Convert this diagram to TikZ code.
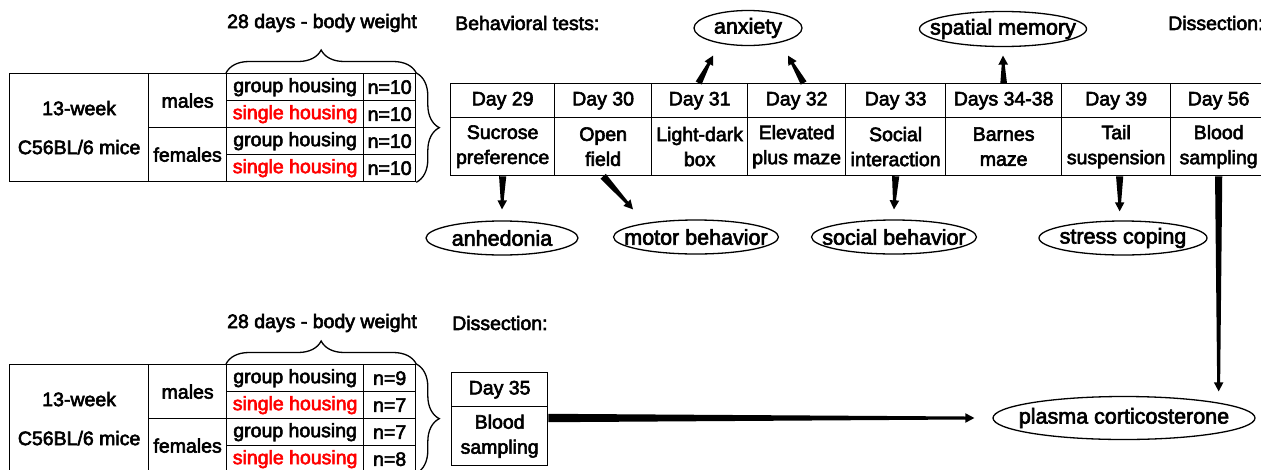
\documentclass[tikz,border=0pt]{standalone}
\usepackage{fontspec}
\setmainfont{Liberation Sans}[FakeBold=3]
\usetikzlibrary{calc,shapes.geometric,decorations.pathreplacing}

\tikzset{
  cell/.style={draw, line width=1.3pt, inner sep=0pt, align=center, anchor=north west,
    font=\fontsize{19.5}{25}\selectfont},
  lbl/.style={font=\fontsize{19.5}{24}\selectfont, inner sep=0pt},
  ovallbl/.style={font=\fontsize{21.5}{24}\selectfont, inner sep=0pt},
  oval/.style={draw, ellipse, line width=1.3pt, inner sep=0pt, minimum height=35pt,
    label={[ovallbl]center:#1}},
  redtxt/.style={text=red},
  brc/.style={decorate, decoration={brace, amplitude=23pt}, line width=1.3pt}
}

% tapered arrow: [half width at start]{start}{tip}
\newcommand\taparrow[3][3.6pt]{%
  \fill let \p1=(#2), \p2=(#3), \n1={atan2(\y2-\y1,\x2-\x1)} in
    ($(\p1)+(\n1+90:#1)$)
    -- ($(\p2)+(\n1+180:9pt)+(\n1+90:1.5pt)$)
    -- ($(\p2)+(\n1+180:9pt)+(\n1+90:4.8pt)$)
    -- (\p2)
    -- ($(\p2)+(\n1+180:9pt)+(\n1-90:4.8pt)$)
    -- ($(\p2)+(\n1+180:9pt)+(\n1-90:1.5pt)$)
    -- ($(\p1)+(\n1-90:#1)$) -- cycle;}

\begin{document}
\begin{tikzpicture}[x=1pt, y=-1pt]
\useasboundingbox (0,0) rectangle (1261,469);

% ---------- top group table ----------
\node[cell, minimum width=139pt, minimum height=108pt, font=\fontsize{19.5}{39}\selectfont] (tA) at (9,73) {13-week\\C56BL/6 mice};
\node[cell, minimum width=78pt, minimum height=54pt] (tM) at (148,73) {males};
\node[cell, minimum width=78pt, minimum height=54pt] (tF) at (148,127) {females};
\node[cell, minimum width=137pt, minimum height=27pt] (tG1) at (226,73) {group housing};
\node[cell, minimum width=137pt, minimum height=27pt, redtxt] (tS1) at (226,100) {single housing};
\node[cell, minimum width=137pt, minimum height=27pt] (tG2) at (226,127) {group housing};
\node[cell, minimum width=137pt, minimum height=27pt, redtxt] (tS2) at (226,154) {single housing};
\node[cell, minimum width=52pt, minimum height=27pt] (tN1) at (363,73) {n=10};
\node[cell, minimum width=52pt, minimum height=27pt] (tN2) at (363,100) {n=10};
\node[cell, minimum width=52pt, minimum height=27pt] (tN3) at (363,127) {n=10};
\node[cell, minimum width=52pt, minimum height=27pt] (tN4) at (363,154) {n=10};
\draw[brc] (tG1.north west) -- (tN1.north east);
\draw[brc] (tN1.north east) -- (tN4.south east);
\node[lbl] (tW) at (322,23) {28 days - body weight};

% ---------- bottom group table ----------
\node[cell, minimum width=139pt, minimum height=108pt, font=\fontsize{19.5}{39}\selectfont] (bA) at (9,364) {13-week\\C56BL/6 mice};
\node[cell, minimum width=78pt, minimum height=54pt] (bM) at (148,364) {males};
\node[cell, minimum width=78pt, minimum height=54pt] (bF) at (148,418) {females};
\node[cell, minimum width=137pt, minimum height=27pt] (bG1) at (226,364) {group housing};
\node[cell, minimum width=137pt, minimum height=27pt, redtxt] (bS1) at (226,391) {single housing};
\node[cell, minimum width=137pt, minimum height=27pt] (bG2) at (226,418) {group housing};
\node[cell, minimum width=137pt, minimum height=27pt, redtxt] (bS2) at (226,445) {single housing};
\node[cell, minimum width=52pt, minimum height=27pt] (bN1) at (363,364) {n=9};
\node[cell, minimum width=52pt, minimum height=27pt] (bN2) at (363,391) {n=7};
\node[cell, minimum width=52pt, minimum height=27pt] (bN3) at (363,418) {n=7};
\node[cell, minimum width=52pt, minimum height=27pt] (bN4) at (363,445) {n=8};
\draw[brc] (bG1.north west) -- (bN1.north east);
\draw[brc] (bN1.north east) -- (bN4.south east);
\node[lbl] (bW) at (322,323) {28 days - body weight};

% ---------- labels ----------
\node[lbl, anchor=west] (behav) at (455,23) {Behavioral tests:};
\node[lbl, anchor=west] (dissT) at (1168,23) {Dissection:};
\node[lbl, anchor=west] (dissB) at (452,323) {Dissection:};

% ---------- timeline ----------
\foreach \nm/\x/\w/\hd/\ct in {
  29/450/104/Day 29/Sucrose\\preference,
  30/554/97/Day 30/Open\\field,
  31/651/96/Day 31/Light-dark\\box,
  32/747/98/Day 32/Elevated\\plus maze,
  33/845/100/Day 33/Social\\interaction,
  34/945/116/Days 34-38/Barnes\\maze,
  39/1061/109/Day 39/Tail\\suspension,
  56/1170/96/Day 56/Blood\\sampling}{
  \node[cell, minimum width=\w pt, minimum height=34pt] (h\nm) at (\x,83) {\hd};
  \node[cell, minimum width=\w pt, minimum height=58pt] (c\nm) at (\x,117) {\ct};
}
\node[cell, minimum width=96pt, minimum height=34pt] (h35) at (451,372) {Day 35};
\node[cell, minimum width=96pt, minimum height=59pt] (c35) at (451,406) {Blood\\sampling};

% ---------- outcome ellipses ----------
\node[oval=anxiety, minimum width=108pt] (anx) at (748,28) {};
\node[oval=spatial memory, minimum width=167pt] (spa) at (1003,29) {};
\node[oval=anhedonia, minimum width=152pt, minimum height=34pt] (anh) at (502,238) {};
\node[oval=motor behavior, minimum width=165pt, minimum height=34pt] (mot) at (696,237) {};
\node[oval=social behavior, minimum width=165pt, minimum height=34pt] (soc) at (894,237) {};
\node[oval=stress coping, minimum width=168pt, minimum height=34pt] (str) at (1123,238) {};
\node[oval=plasma corticosterone, minimum width=262pt, minimum height=43pt] (pla) at (1124,418) {};

% ---------- arrow end points ----------
\coordinate (anxLS) at ($(h31.north)+(-1,0)$);
\coordinate (anxLT) at ($(anx.south)+(-35,9.5)$);
\coordinate (anxRS) at ($(h32.north)+(7,0)$);
\coordinate (anxRT) at ($(anx.south)+(40,9.5)$);
\coordinate (spaT) at ($(spa.south)+(0,8.5)$);
\coordinate (anhT) at ($(anh.north)+(0,-11)$);
\coordinate (motT) at ($(mot.north)+(-63,-10)$);
\coordinate (socT) at ($(soc.north)+(0,-10)$);
\coordinate (strS) at ($(c39.south)+(3.5,0)$);
\coordinate (strT) at ($(strS)+(0,35)$);
\coordinate (plaT1) at ($(c56.south |- pla.north)+(0,-4.5)$);
\coordinate (plaS2) at (c35.east |- pla.west);
\coordinate (plaT2) at ($(pla.west)+(-18,0)$);

% ---------- arrows ----------
\taparrow[3.3pt]{anxLS}{anxLT}
\taparrow[3.3pt]{anxRS}{anxRT}
\taparrow[3.3pt]{h34.north}{spaT}
\taparrow{c29.south}{anhT}
\taparrow{c30.south}{motT}
\taparrow{c33.south}{socT}
\taparrow{strS}{strT}
\taparrow{c56.south}{plaT1}
\taparrow[4.2pt]{plaS2}{plaT2}
\end{tikzpicture}
\end{document}
